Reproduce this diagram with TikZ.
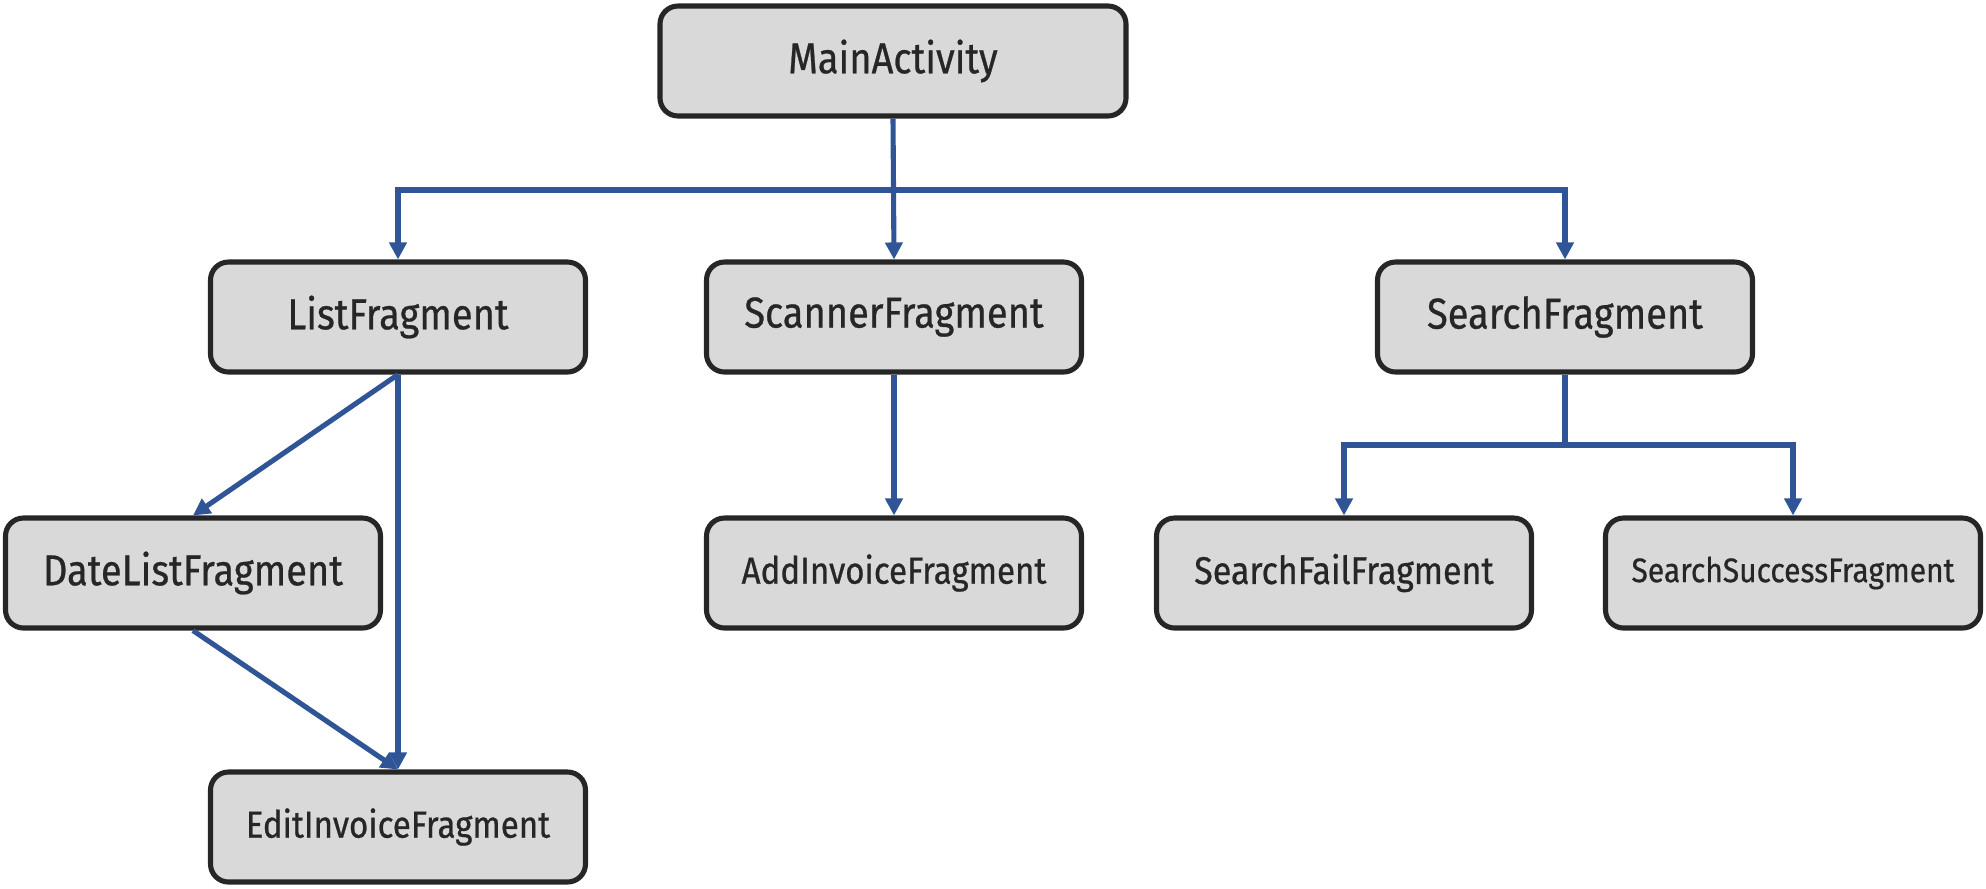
\documentclass[tikz,border=0pt]{standalone}
\usepackage{fontspec}
\setmainfont[FakeStretch=0.88,FakeBold=0.6]{Fira Sans}
\usetikzlibrary{arrows.meta}
\definecolor{boxgrijs}{HTML}{D9D9D9}
\definecolor{randdonker}{HTML}{262626}
\definecolor{pijlblauw}{HTML}{2F5597}
\tikzset{
  blok/.style={draw=randdonker, line width=1.45pt, fill=boxgrijs, rounded corners=0.18cm,
    minimum width=3.75cm, minimum height=1.1cm, text=randdonker, font=\fontsize{12.3}{15}\selectfont},
  pijl/.style={pijlblauw, line width=1.45pt, -{Triangle[width=0.17cm,length=0.17cm]}},
  tweepijl/.style={pijlblauw, line width=1.45pt, {Triangle[width=0.17cm,length=0.17cm]}-{Triangle[width=0.17cm,length=0.17cm]}},
  lijn/.style={pijlblauw, line width=1.45pt}
}
\begin{document}
\begin{tikzpicture}
                \useasboundingbox (0,0) rectangle (19.86,-8.88);

                % Blokken
                \node[blok, minimum width=4.66cm] (main) at (8.93,-0.61) {MainActivity};
                \node[blok] (list) at (3.98,-3.17) {ListFragment};
                \node[blok] (scanner) at (8.94,-3.17) {ScannerFragment};
                \node[blok] (search) at (15.65,-3.17) {SearchFragment};
                \node[blok] (datelist) at (1.93,-5.73) {DateListFragment};
                \node[blok, font=\fontsize{10.7}{14}\selectfont] (addinv) at (8.94,-5.73) {AddInvoiceFragment};
                \node[blok, font=\fontsize{11}{14}\selectfont] (fail) at (13.44,-5.73) {SearchFailFragment};
                \node[blok, font=\fontsize{9.7}{13}\selectfont] (success) at (17.93,-5.73) {SearchSuccessFragment};
                \node[blok, font=\fontsize{10.7}{14}\selectfont] (edit) at (3.98,-8.27) {EditInvoiceFragment};

                % Takpunten
                \coordinate (tak) at (8.93,-1.90);
                \coordinate (tak2) at (15.65,-4.45);

                % Verbindingen MainActivity
                \draw[pijl] (main.south) -- (scanner.north);
                \draw[tweepijl] (list.north) |- (tak) -| (search.north);

                % Verbindingen ListFragment
                \draw[pijl] (list.south) -- (datelist.north);
                \draw[pijl] (list.south) -- (edit.north);
                \draw[pijl] (datelist.south) -- (edit.north);

                % Scanner
                \draw[pijl] (scanner.south) -- (addinv.north);

                % Zoeken
                \draw[lijn] (search.south) -- (tak2);
                \draw[tweepijl] (fail.north) |- (tak2) -| (success.north);
\end{tikzpicture}
\end{document}
